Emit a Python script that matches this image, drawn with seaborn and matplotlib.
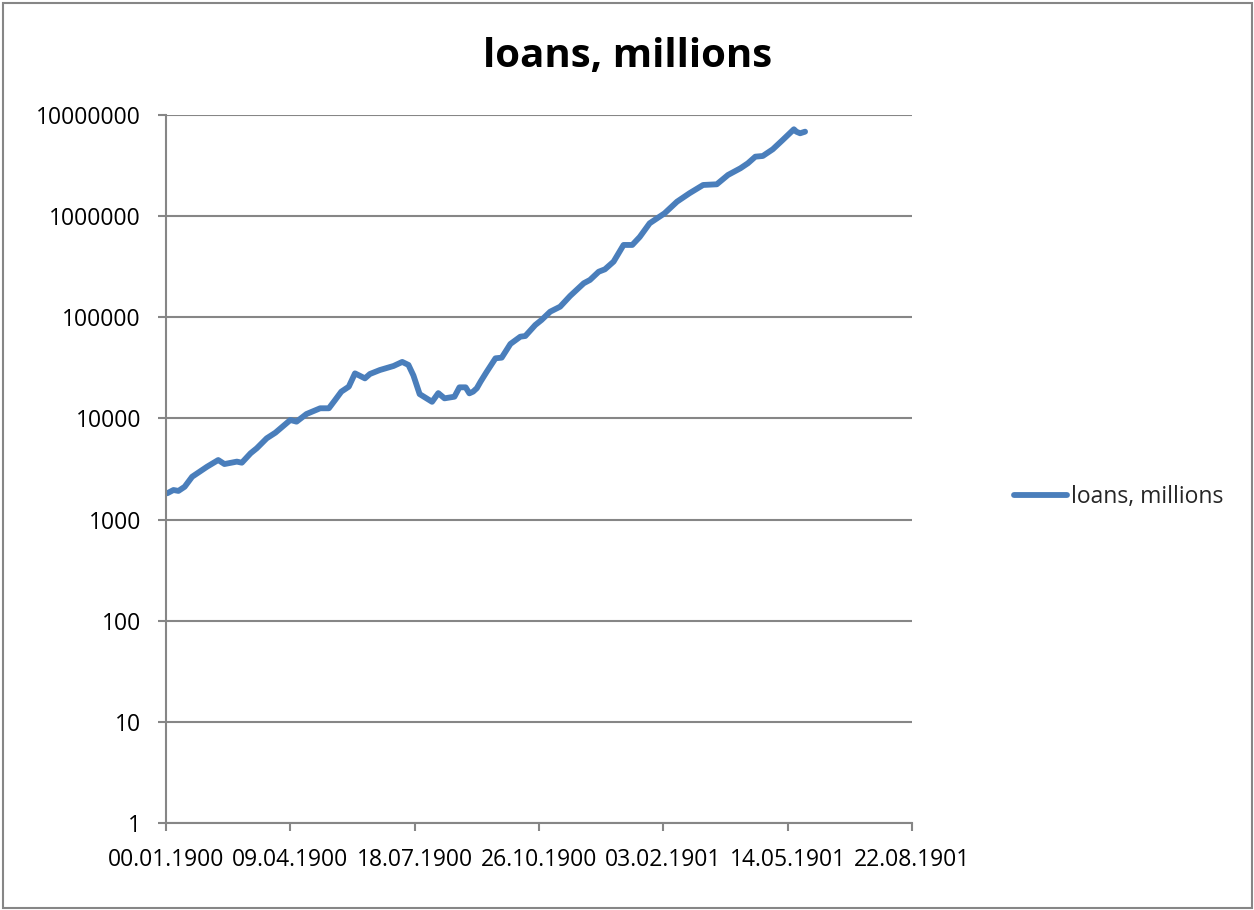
import matplotlib
matplotlib.use("Agg")
import matplotlib.pyplot as plt
import seaborn as sns
import pandas as pd
from matplotlib.patches import Rectangle
from matplotlib.lines import Line2D

# ---- data ----
days = [1, 6, 10, 15, 21, 33, 42, 47, 57, 61, 68, 73, 81, 88, 100, 105, 113, 124, 131,
        136, 141, 147, 152, 160, 164, 172, 183, 190, 195, 199, 204, 214, 219, 224, 232,
        236, 241, 244, 247, 250, 253, 258, 265, 270, 277, 285, 289, 297, 302, 309, 317,
        325, 336, 341, 348, 353, 360, 368, 375, 381, 389, 401, 411, 421, 432, 443, 452,
        462, 468, 474, 480, 488, 496, 505, 507, 510, 514]
loans = [1820, 1960, 1920, 2110, 2650, 3330, 3880, 3540, 3740, 3650, 4520, 5070, 6360,
         7230, 9650, 9290, 11060, 12600, 12600, 15200, 18400, 20600, 27900, 24900, 27500,
         30100, 33000, 36200, 33800, 26600, 17400, 14600, 17800, 15800, 16400, 20300,
         20300, 17700, 18400, 19900, 23100, 29000, 39300, 39900, 54500, 64300, 65300,
         83900, 94000, 113600, 127300, 162400, 217000, 234000, 282000, 298000, 355000,
         519000, 519000, 622000, 850000, 1067000, 1390000, 1683000, 2033000, 2065000,
         2553000, 2973000, 3332000, 3873000, 3934000, 4581000, 5662000, 7225000, 6841000,
         6596000, 6841000]
series_name = "loans, millions"
title = "loans, millions"
x_ticks = [0, 100, 200, 300, 400, 500, 600]
x_labels = ["00.01.1900", "09.04.1900", "18.07.1900", "26.10.1900",
            "03.02.1901", "14.05.1901", "22.08.1901"]
y_ticks = [1, 10, 100, 1000, 10000, 100000, 1000000, 10000000]
y_labels = ["1", "10", "100", "1000", "10000", "100000", "1000000", "10000000"]

df = pd.DataFrame({"day": days, "loans": loans})

sns.set_style("white")
plt.rcParams["font.family"] = ["Open Sans", "DejaVu Sans"]

W, H = 1254, 910
fig = plt.figure(figsize=(W / 100, H / 100), dpi=100)
ax = fig.add_axes([166 / W, 87 / H, 746 / W, 708 / H])

LINE = "#4A7EBB"
GRID = "#868686"
FS = 16.5

sns.lineplot(data=df, x="day", y="loans", ax=ax, color=LINE, linewidth=4.2,
             legend=False, solid_capstyle="round", solid_joinstyle="round")

ax.set_yscale("log")
ax.set_ylim(1, 1e7)
ax.set_xlim(0, 600)
ax.set_yticks(y_ticks)
ax.set_yticklabels(y_labels)
ax.set_xticks(x_ticks)
ax.set_xticklabels(x_labels)
ax.minorticks_off()
ax.set_xlabel("")
ax.set_ylabel("")

ax.yaxis.grid(True, color=GRID, linewidth=1.5)
ax.xaxis.grid(False)
ax.set_axisbelow(True)
for s in ["top", "right"]:
    ax.spines[s].set_visible(False)
for s in ["left", "bottom"]:
    ax.spines[s].set_color(GRID)
    ax.spines[s].set_linewidth(1.5)
ax.tick_params(axis="both", which="major", direction="out", length=6, width=1.5,
               color=GRID, labelsize=FS, labelcolor="black", pad=12,
               left=True, bottom=True)

fig.text(628 / W, 1 - 67 / H, title, ha="center", va="baseline",
         fontsize=29, fontweight="bold", color="black")

handle = Line2D([], [], color=LINE, linewidth=4.2, solid_capstyle="round")
fig.legend([handle], [series_name], loc="center left",
           bbox_to_anchor=(1014 / W, 1 - 497 / H), frameon=False,
           fontsize=FS, handlelength=2.3, handletextpad=0.2, borderpad=0,
           borderaxespad=0)

fig.patches.append(Rectangle((3 / W, 2 / H), 1249 / W, 905 / H,
                             transform=fig.transFigure, fill=False,
                             edgecolor=GRID, linewidth=1.5))

fig.savefig("out.png", dpi=100, facecolor="white")
